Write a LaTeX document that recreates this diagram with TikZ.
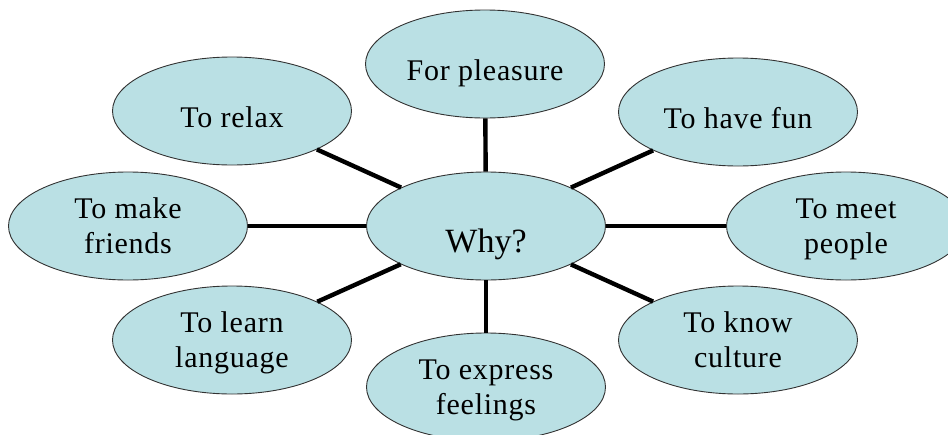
\documentclass[tikz,border=0pt]{standalone}
\usepackage{fontspec}
\setmainfont{Liberation Serif}
\newfontfamily\bubblefont{Liberation Serif}[LetterSpace=2.5]
\usetikzlibrary{shapes.geometric}
\definecolor{bubblefill}{RGB}{186,224,228}
\definecolor{bubbleline}{RGB}{50,50,50}

\begin{document}
\begin{tikzpicture}[x=1pt,y=1pt]
  \tikzset{
    reason/.style={
      ellipse,
      draw=bubbleline,
      fill=bubblefill,
      line width=0.9pt,
      minimum width=239pt,
      minimum height=108pt,
      inner sep=0pt,
      font=\bubblefont\fontsize{30}{35}\selectfont,
      align=center,
      text depth=0pt
    },
    oneline/.style={text height=33pt},
    spoke/.style={line width=4.4pt, draw=black}
  }

  \useasboundingbox (0,0) rectangle (948,-434);

  \node[reason, font=\fontsize{34}{40}\selectfont, text height=52pt] (Why) at (486, -226) {Why?};
  \node[reason, oneline] (Pleasure) at (485, -64) {For pleasure};
  \node[reason, oneline] (Relax) at (232, -111) {To relax};
  \node[reason, oneline] (Fun) at (738, -112) {To have fun};
  \node[reason] (Friends) at (128, -226) {To make\\friends};
  \node[reason] (People) at (846, -226) {To meet\\people};
  \node[reason] (Language) at (232, -340) {To learn\\language};
  \node[reason] (Culture) at (738, -340) {To know\\culture};
  \node[reason] (Feelings) at (486, -387) {To express\\feelings};

  \draw[spoke] (Why) -- (Pleasure);
  \draw[spoke] (Why) -- (Relax);
  \draw[spoke] (Why) -- (Fun);
  \draw[spoke] (Why) -- (Friends);
  \draw[spoke] (Why) -- (People);
  \draw[spoke] (Why) -- (Language);
  \draw[spoke] (Why) -- (Culture);
  \draw[spoke] (Why) -- (Feelings);
\end{tikzpicture}
\end{document}
